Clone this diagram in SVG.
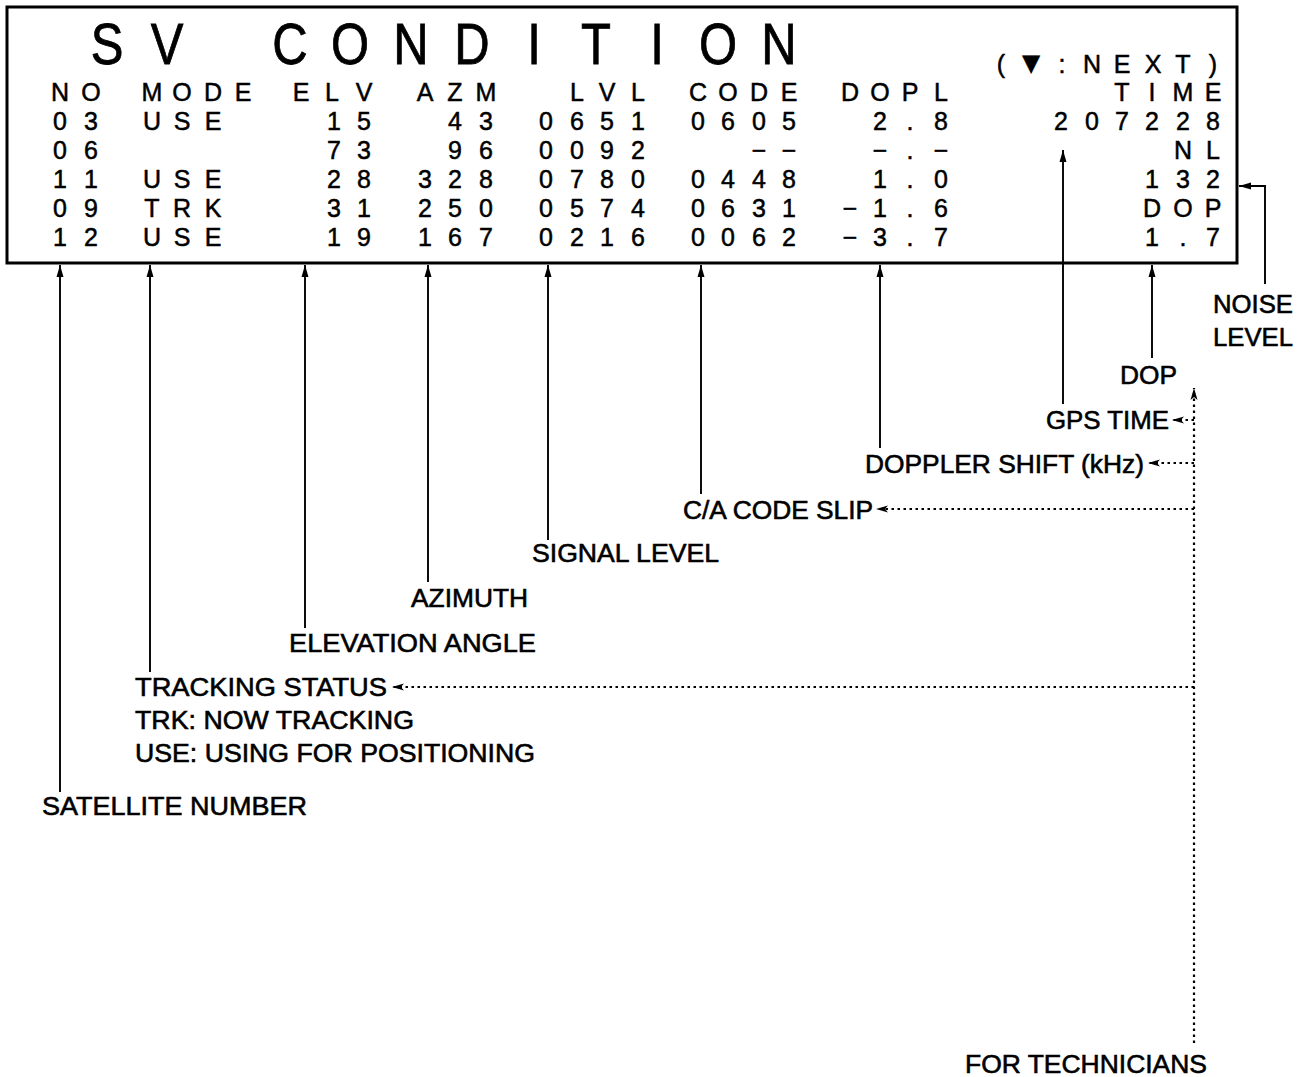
<svg xmlns="http://www.w3.org/2000/svg" width="1305" height="1077" viewBox="0 0 1305 1077">
<style>
text{font-family:"Liberation Sans","DejaVu Sans",Arial,sans-serif;fill:#000;stroke:#000}
.tt{font-size:57px;text-anchor:middle;stroke-width:0.8}
.tb{font-size:25px;text-anchor:middle;stroke-width:0.5}
.lb{font-size:26px;stroke-width:0.6}
.ln{stroke:#000;stroke-width:1.9;fill:none}
.dt{stroke:#000;stroke-width:2.2;fill:none;stroke-dasharray:2.5 3.5}
</style>
<defs>
<marker id="ah" viewBox="0 0 12 8" refX="12" refY="4" markerUnits="userSpaceOnUse" markerWidth="14" markerHeight="8" orient="auto">
<path d="M0,0.5 L12,4 L0,7.5 z" fill="#000"/>
</marker>
<marker id="ad" viewBox="0 0 12 8" refX="12" refY="4" markerUnits="userSpaceOnUse" markerWidth="12" markerHeight="8" orient="auto">
<path d="M0,0.5 L12,4 L0,7.5 L3,4 z" fill="#000"/>
</marker>
</defs>
<rect width="1305" height="1077" fill="#fff"/>

<g id="screen">
<rect x="7" y="7" width="1230" height="256" fill="#fff" stroke="#000" stroke-width="3"/>
<g transform="scale(0.86 1)">
<text class="tt" x="124.4 194.2" y="64">SV</text>
<text class="tt" x="337.2 407.0 477.9 548.8 620.9 693.0 764.0 834.9 905.8" y="64">CONDITION</text>
</g>
<text class="tb" x="1001" y="73">(</text>
<text class="tb" x="1031" y="73" style="font-size:30px">▼</text>
<text class="tb" x="1062 1092 1122 1153 1183 1213" y="73">:NEXT)</text>
<!-- header -->
<text class="tb" x="60 91" y="101">NO</text>
<text class="tb" x="152 182 213 243" y="101">MODE</text>
<text class="tb" x="301 332 364" y="101">ELV</text>
<text class="tb" x="425 455 486" y="101">AZM</text>
<text class="tb" x="577 607 638" y="101">LVL</text>
<text class="tb" x="698 728 759 789" y="101">CODE</text>
<text class="tb" x="850 880 910 941" y="101">DOPL</text>
<text class="tb" x="1122 1152 1183 1213" y="101">TIME</text>
<!-- row 1 -->
<text class="tb" x="60 91" y="130">03</text>
<text class="tb" x="152 182 213" y="130">USE</text>
<text class="tb" x="334 364" y="130">15</text>
<text class="tb" x="455 486" y="130">43</text>
<text class="tb" x="546 577 607 638" y="130">0651</text>
<text class="tb" x="698 728 759 789" y="130">0605</text>
<text class="tb" x="880 910 941" y="130">2.8</text>
<text class="tb" x="1061 1092 1122 1152 1183 1213" y="130">207228</text>
<!-- row 2 -->
<text class="tb" x="60 91" y="159">06</text>
<text class="tb" x="334 364" y="159">73</text>
<text class="tb" x="455 486" y="159">96</text>
<text class="tb" x="546 577 607 638" y="159">0092</text>
<text class="tb" x="759 789" y="159">−−</text>
<text class="tb" x="880 910 941" y="159">−.−</text>
<text class="tb" x="1183 1213" y="159">NL</text>
<!-- row 3 -->
<text class="tb" x="60 91" y="188">11</text>
<text class="tb" x="152 182 213" y="188">USE</text>
<text class="tb" x="334 364" y="188">28</text>
<text class="tb" x="425 455 486" y="188">328</text>
<text class="tb" x="546 577 607 638" y="188">0780</text>
<text class="tb" x="698 728 759 789" y="188">0448</text>
<text class="tb" x="880 910 941" y="188">1.0</text>
<text class="tb" x="1152 1183 1213" y="188">132</text>
<!-- row 4 -->
<text class="tb" x="60 91" y="217">09</text>
<text class="tb" x="152 182 213" y="217">TRK</text>
<text class="tb" x="334 364" y="217">31</text>
<text class="tb" x="425 455 486" y="217">250</text>
<text class="tb" x="546 577 607 638" y="217">0574</text>
<text class="tb" x="698 728 759 789" y="217">0631</text>
<text class="tb" x="850 880 910 941" y="217">−1.6</text>
<text class="tb" x="1152 1183 1213" y="217">DOP</text>
<!-- row 5 -->
<text class="tb" x="60 91" y="246">12</text>
<text class="tb" x="152 182 213" y="246">USE</text>
<text class="tb" x="334 364" y="246">19</text>
<text class="tb" x="425 455 486" y="246">167</text>
<text class="tb" x="546 577 607 638" y="246">0216</text>
<text class="tb" x="698 728 759 789" y="246">0062</text>
<text class="tb" x="850 880 910 941" y="246">−3.7</text>
<text class="tb" x="1152 1183 1213" y="246">1.7</text>
</g>

<g id="connectors">
<line class="ln" x1="60" y1="792" x2="60" y2="265" marker-end="url(#ah)"/>
<line class="ln" x1="150" y1="672" x2="150" y2="265" marker-end="url(#ah)"/>
<line class="ln" x1="305" y1="628" x2="305" y2="265" marker-end="url(#ah)"/>
<line class="ln" x1="428" y1="582" x2="428" y2="265" marker-end="url(#ah)"/>
<line class="ln" x1="548" y1="540" x2="548" y2="265" marker-end="url(#ah)"/>
<line class="ln" x1="701" y1="494" x2="701" y2="265" marker-end="url(#ah)"/>
<line class="ln" x1="880" y1="448" x2="880" y2="265" marker-end="url(#ah)"/>
<line class="ln" x1="1063" y1="404" x2="1063" y2="150" marker-end="url(#ah)"/>
<line class="ln" x1="1152" y1="358" x2="1152" y2="265" marker-end="url(#ah)"/>
<polyline class="ln" points="1265,284 1265,186 1239,186" marker-end="url(#ah)"/>
<line class="dt" x1="1194" y1="1043" x2="1194" y2="388" marker-end="url(#ad)"/>
<line class="dt" x1="1194" y1="420" x2="1172" y2="420" marker-end="url(#ad)"/>
<line class="dt" x1="1194" y1="463" x2="1148" y2="463" marker-end="url(#ad)"/>
<line class="dt" x1="1194" y1="509" x2="876" y2="509" marker-end="url(#ad)"/>
<line class="dt" x1="1194" y1="687" x2="392" y2="687" marker-end="url(#ad)"/>
</g>

<g id="label-noise"><text class="lb" x="1253" y="313" text-anchor="middle" textLength="80" lengthAdjust="spacingAndGlyphs">NOISE</text><text class="lb" x="1253" y="346" text-anchor="middle" textLength="80" lengthAdjust="spacingAndGlyphs">LEVEL</text></g>
<g id="label-dop"><text class="lb" x="1120" y="384" textLength="57" lengthAdjust="spacingAndGlyphs">DOP</text></g>
<g id="label-gpstime"><text class="lb" x="1046" y="429" textLength="123" lengthAdjust="spacingAndGlyphs">GPS TIME</text></g>
<g id="label-doppler"><text class="lb" x="865" y="473" textLength="279" lengthAdjust="spacingAndGlyphs">DOPPLER SHIFT (kHz)</text></g>
<g id="label-caslip"><text class="lb" x="683" y="519" textLength="190" lengthAdjust="spacingAndGlyphs">C/A CODE SLIP</text></g>
<g id="label-signal"><text class="lb" x="532" y="562" textLength="187" lengthAdjust="spacingAndGlyphs">SIGNAL LEVEL</text></g>
<g id="label-azimuth"><text class="lb" x="411" y="607" textLength="117" lengthAdjust="spacingAndGlyphs">AZIMUTH</text></g>
<g id="label-elevation"><text class="lb" x="289" y="652" textLength="247" lengthAdjust="spacingAndGlyphs">ELEVATION ANGLE</text></g>
<g id="label-tracking">
<text class="lb" x="135" y="696" textLength="252" lengthAdjust="spacingAndGlyphs">TRACKING STATUS</text>
<text class="lb" x="135" y="729" textLength="279" lengthAdjust="spacingAndGlyphs">TRK: NOW TRACKING</text>
<text class="lb" x="135" y="762" textLength="400" lengthAdjust="spacingAndGlyphs">USE: USING FOR POSITIONING</text>
</g>
<g id="label-satellite"><text class="lb" x="42" y="815" textLength="265" lengthAdjust="spacingAndGlyphs">SATELLITE NUMBER</text></g>
<g id="label-technicians"><text class="lb" x="965" y="1073" textLength="242" lengthAdjust="spacingAndGlyphs">FOR TECHNICIANS</text></g>
</svg>
